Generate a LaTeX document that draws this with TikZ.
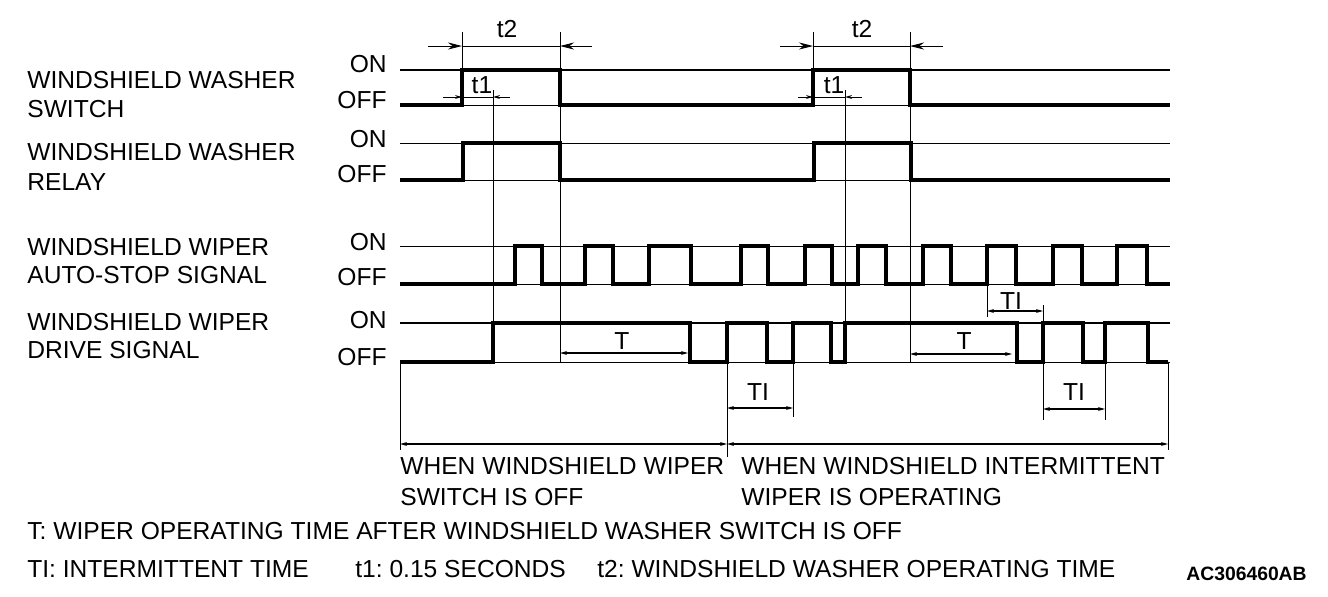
\documentclass[tikz,border=0pt]{standalone}
\usepackage{fontspec}
\setmainfont{Liberation Sans}
\usetikzlibrary{arrows.meta}
\frenchspacing

\tikzset{
  sig/.style={line width=1.8pt},
  midline/.style={line width=1.1pt},
  guide/.style={line width=0.5pt},
  dimbig/.style={line width=0.5pt,-{Stealth[length=8pt,width=4pt]}},
  dimsmall/.style={line width=0.6pt,{Stealth[length=4pt,width=2.2pt]}-{Stealth[length=4pt,width=2.2pt]}},
  dimtip/.style={line width=0.5pt,-{Stealth[length=4pt,width=2.2pt]}},
  lbl/.style={anchor=base west,inner sep=0pt,font=\fontsize{14}{16}\selectfont},
  lvl/.style={anchor=base east,inner sep=0pt,font=\fontsize{14}{16}\selectfont},
  dimlbl/.style={anchor=base,inner sep=0pt,font=\fontsize{14}{16}\selectfont},
}

\begin{document}
\begin{tikzpicture}[x=0.02cm,y=-0.02cm]
  \useasboundingbox (0,0) rectangle (1328,596);

  % 左侧信号名称
  \node[lbl] (swA) at (27,88) {WINDSHIELD WASHER};
  \node[lbl] (swB) at (27,117) {SWITCH};
  \node[lbl] (rlA) at (27,160) {WINDSHIELD WASHER};
  \node[lbl] (rlB) at (27,190) {RELAY};
  \node[lbl] (asA) at (27,255) {WINDSHIELD WIPER};
  \node[lbl] (asB) at (27,283) {AUTO-STOP SIGNAL};
  \node[lbl] (drA) at (27,330) {WINDSHIELD WIPER};
  \node[lbl] (drB) at (27,358) {DRIVE SIGNAL};

  % ON / OFF
  \node[lvl] (swOn) at (387,72) {ON};
  \node[lvl] (swOff) at (387,108) {OFF};
  \node[lvl] (rlOn) at (387,147) {ON};
  \node[lvl] (rlOff) at (387,182) {OFF};
  \node[lvl] (asOn) at (387,250) {ON};
  \node[lvl] (asOff) at (387,285) {OFF};
  \node[lvl] (drOn) at (387,328) {ON};
  \node[lvl] (drOff) at (387,365) {OFF};

  % 参考线
  \draw[midline] (400,70) -- (1170,70);
  \draw[guide] (400,105) -- (1170,105);
  \draw[guide] (400,143) -- (1170,143);
  \draw[guide] (400,180) -- (1170,180);
  \draw[guide] (400,246) -- (1170,246);
  \draw[guide] (400,284) -- (1170,284);
  \draw[midline] (400,323) -- (1170,323);
  \draw[guide] (400,362) -- (1170,362);

  % 辅助竖线
  \draw[guide] (462,32) -- (462,70);
  \draw[guide] (560,32) -- (560,70);
  \draw[guide] (813,32) -- (813,70);
  \draw[guide] (910,32) -- (910,70);
  \draw[guide] (493,90) -- (493,362);
  \draw[guide] (560,105) -- (560,362);
  \draw[guide] (845,90) -- (845,362);
  \draw[guide] (910,105) -- (910,362);
  \draw[guide] (400,362) -- (400,450);
  \draw[guide] (727,362) -- (727,457);
  \draw[guide] (1168,362) -- (1168,450);
  \draw[guide] (793,362) -- (793,417);
  \draw[guide] (1043,362) -- (1043,420);
  \draw[guide] (1105,362) -- (1105,420);
  \draw[guide] (987,284) -- (987,317);
  \draw[guide] (1043,305) -- (1043,323);

  % 信号波形
  \draw[sig] (400,105) -- (462,105) -- (462,70) -- (560,70) -- (560,105)
    -- (813,105) -- (813,70) -- (910,70) -- (910,105) -- (1170,105);
  \draw[sig] (400,180) -- (463,180) -- (463,143) -- (560,143) -- (560,180)
    -- (814,180) -- (814,143) -- (911,143) -- (911,180) -- (1170,180);
  \draw[sig] (400,284) -- (515,284) -- (515,246) -- (542,246) -- (542,284)
    -- (585,284) -- (585,246) -- (613,246) -- (613,284)
    -- (649,284) -- (649,246) -- (691,246) -- (691,284)
    -- (741,284) -- (741,246) -- (768,246) -- (768,284)
    -- (805,284) -- (805,246) -- (832,246) -- (832,284)
    -- (858,284) -- (858,246) -- (886,246) -- (886,284)
    -- (923,284) -- (923,246) -- (951,246) -- (951,284)
    -- (987,284) -- (987,246) -- (1016,246) -- (1016,284)
    -- (1053,284) -- (1053,246) -- (1082,246) -- (1082,284)
    -- (1117,284) -- (1117,246) -- (1147,246) -- (1147,284) -- (1170,284);
  \draw[sig] (400,362) -- (493,362) -- (493,323) -- (690,323) -- (690,362)
    -- (727,362) -- (727,323) -- (767,323) -- (767,362)
    -- (793,362) -- (793,323) -- (831,323) -- (831,362)
    -- (845,362) -- (845,323) -- (1017,323) -- (1017,362)
    -- (1043,362) -- (1043,323) -- (1083,323) -- (1083,362)
    -- (1105,362) -- (1105,323) -- (1148,323) -- (1148,362) -- (1168,362);

  % t2, t1
  \draw[guide] (462,46) -- (560,46);
  \draw[dimbig] (428,46) -- (462,46);
  \draw[dimbig] (592,46) -- (560,46);
  \draw[guide] (813,46) -- (910,46);
  \draw[dimbig] (780,46) -- (813,46);
  \draw[dimbig] (943,46) -- (910,46);
  \node[dimlbl] (tA) at (507,37) {t2};
  \node[dimlbl] (tB) at (862,37) {t2};
  \draw[guide] (462,97) -- (493,97);
  \draw[dimtip] (443,97) -- (462,97);
  \draw[dimtip] (510,97) -- (493,97);
  \draw[guide] (813,97) -- (845,97);
  \draw[dimtip] (798,97) -- (813,97);
  \draw[dimtip] (862,97) -- (845,97);
  \node[dimlbl] (oA) at (482,93) {t1};
  \node[dimlbl] (oB) at (834,93) {t1};

  % T, TI
  \draw[dimsmall] (560,353) -- (688,353);
  \draw[dimsmall] (910,354) -- (1012,354);
  \node[dimlbl] (TA) at (622,349) {T};
  \node[dimlbl] (TB) at (964,349) {T};
  \draw[dimsmall] (987,311) -- (1043,311);
  \node[dimlbl] (TIa) at (1011,309) {TI};
  \draw[dimsmall] (727,408) -- (793,408);
  \node[dimlbl] (TIb) at (758,400) {TI};
  \draw[dimsmall] (1043,409) -- (1105,409);
  \node[dimlbl] (TIc) at (1074,400) {TI};

  % 底部区间
  \draw[dimsmall,line width=1.1pt] (400,444) -- (727,444);
  \draw[dimsmall,line width=1.1pt] (727,444) -- (1168,444);
  \node[lbl] (offA) at (400,474) {WHEN WINDSHIELD WIPER};
  \node[lbl] (offB) at (400,505) {SWITCH IS OFF};
  \node[lbl] (intA) at (741,474) {WHEN WINDSHIELD INTERMITTENT};
  \node[lbl] (intB) at (741,505) {WIPER IS OPERATING};

  % 说明
  \node[lbl] (nT) at (27,539) {T: WIPER OPERATING TIME AFTER WINDSHIELD WASHER SWITCH IS OFF};
  \node[lbl] (nTI) at (27,577) {TI: INTERMITTENT TIME};
  \node[lbl] (nt1) at (355,577) {t1: 0.15 SECONDS};
  \node[lbl] (nt2) at (597,577) {t2: WINDSHIELD WASHER OPERATING TIME};
  \node[lbl,font=\fontsize{11}{13}\selectfont\bfseries] (code) at (1186,580) {AC306460AB};
\end{tikzpicture}
\end{document}
